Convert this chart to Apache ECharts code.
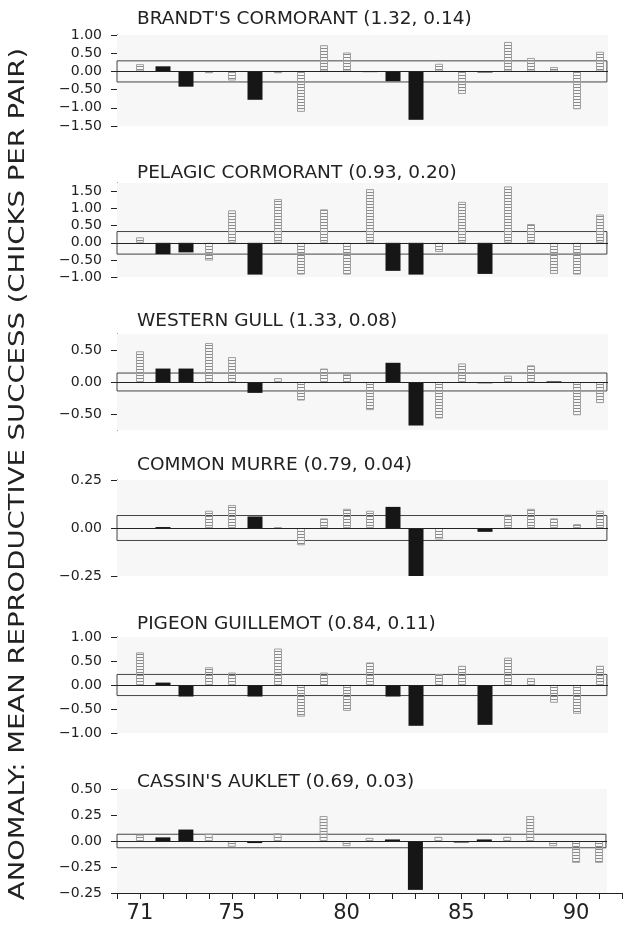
<!DOCTYPE html>
<html>
<head>
<meta charset="utf-8">
<script src="https://cdn.jsdelivr.net/npm/echarts@6/dist/echarts.min.js"></script>
<style>
html,body{margin:0;padding:0;background:#fff;}
#chart{width:625px;height:926px;}
</style>
</head>
<body>
<div id="chart"></div>
<script>
// years 1971..1991
var years = [71,72,73,74,75,76,77,78,79,80,81,82,83,84,85,86,87,88,89,90,91];

// anomalies (chicks per pair)
var brandt    = [0.20,0.14,-0.42,-0.05,-0.25,-0.78,-0.05,-1.11,0.72,0.52,-0.02,-0.27,-1.33,0.21,-0.62,-0.03,0.81,0.37,0.12,-1.04,0.54];
var pelagic   = [0.16,-0.33,-0.28,-0.52,0.95,-0.93,1.28,-0.93,0.98,-0.93,1.57,-0.82,-0.93,-0.27,1.20,-0.91,1.65,0.55,-0.91,-0.93,0.83];
var gull      = [0.48,0.21,0.21,0.61,0.39,-0.17,0.06,-0.29,0.21,0.13,-0.44,0.30,-0.68,-0.57,0.29,-0.02,0.10,0.26,0.01,-0.52,-0.33];
var murre     = [null,0.005,null,0.09,0.12,0.06,0.005,-0.09,0.05,0.10,0.09,0.11,-0.25,-0.06,null,-0.02,0.07,0.10,0.05,0.02,0.09];
var guillemot = [0.68,0.05,-0.24,0.37,0.26,-0.24,0.76,-0.66,0.26,-0.54,0.47,-0.24,-0.85,0.23,0.40,-0.83,0.57,0.14,-0.37,-0.60,0.40];
var auklet    = [0.06,0.035,0.11,0.07,-0.055,-0.02,0.075,-0.005,0.24,-0.05,0.03,0.015,-0.47,0.04,-0.015,0.015,0.04,0.24,-0.05,-0.21,-0.21];

// years drawn as solid black bars
var brandtSolid    = [72,73,76,81,82,83,86];
var pelagicSolid   = [72,73,76,82,83,86];
var gullSolid      = [72,73,76,82,83,86,89];
var murreSolid     = [72,76,82,83,86];
var guillemotSolid = [72,73,76,82,83,86];
var aukletSolid    = [72,73,76,78,82,83,85,86];

var titles = [
	"BRANDT'S CORMORANT (1.32, 0.14)",
	"PELAGIC CORMORANT (0.93, 0.20)",
	"WESTERN GULL (1.33, 0.08)",
	"COMMON MURRE (0.79, 0.04)",
	"PIGEON GUILLEMOT (0.84, 0.11)",
	"CASSIN'S AUKLET (0.69, 0.03)"
];
// half height of the box round zero
var bands = [0.29, 0.33, 0.14, 0.065, 0.22, 0.065];
var yLabelVals = [
	[-1.5,-1,-0.5,0,0.5,1],
	[-1,-0.5,0,0.5,1,1.5],
	[-0.5,0,0.5],
	[-0.25,0,0.25],
	[-1,-0.5,0,0.5,1],
	[-0.5,-0.25,0,0.25,0.5]
];
var xLabelYears = [71,75,80,85,90];
var yTitle = 'ANOMALY: MEAN REPRODUCTIVE SUCCESS (CHICKS PER PAIR)';

var allVals  = [brandt, pelagic, gull, murre, guillemot, auklet];
var allSolid = [brandtSolid, pelagicSolid, gullSolid, murreSolid, guillemotSolid, aukletSolid];

// layout
var gridTops    = [35, 183, 334, 480, 637, 789];
var gridHeights = [91, 94, 96, 96, 96, 104];
var yMins  = [-1.5, -1, -0.75, -0.25, -1, -0.5];
var yMaxs  = [1, 1.75, 0.75, 0.25, 1, 0.5];
var yStep  = [0.5, 0.5, 0.25, 0.25, 0.5, 0.25];
var titleMid = [19, 173, 321, 465, 624, 782];
var FONT = '"DejaVu Sans", "Liberation Sans", sans-serif';

// horizontal stripe pattern for the open bars
var hatch = document.createElement('canvas');
hatch.width = 8; hatch.height = 3;
var hctx = hatch.getContext('2d');
hctx.fillStyle = '#8a8a8a';
hctx.fillRect(0, 0, 8, 1);

function fmt(v){
	return (v < 0 ? '\u2212' : '') + Math.abs(v).toFixed(2);
}

var grid = [], xAxis = [], yAxis = [], series = [], title = [];
for (var i = 0; i < 6; i++) {
	var last = (i == 5);
	grid.push({left: 117, width: 506, top: gridTops[i], height: gridHeights[i]});
	title.push({
		text: titles[i], left: 137, top: titleMid[i] - 9, padding: 0,
		textStyle: {fontFamily: FONT, fontSize: 18.5, fontWeight: 'normal', color: '#222'}
	});
	xAxis.push({
		type: 'value', gridIndex: i, min: 70, max: 92, interval: 1,
		show: last,
		axisLine: {onZero: false, lineStyle: {color: '#222', width: 1}},
		axisTick: {show: true, length: 6, lineStyle: {color: '#222'}},
		splitLine: {show: false},
		axisLabel: {
			color: '#222', fontFamily: FONT, fontSize: 21, margin: 10,
			formatter: function(v){ return xLabelYears.indexOf(v) >= 0 ? String(v) : ''; }
		}
	});
	xAxis.push({type: 'value', gridIndex: i, min: 70, max: 92, show: false, splitLine: {show: false}});
	yAxis.push({
		type: 'value', gridIndex: i, min: yMins[i], max: yMaxs[i], interval: yStep[i],
		axisLine: {show: true, lineStyle: {color: '#222', width: 1}},
		axisTick: {show: true, length: 6, lineStyle: {color: '#222'}, customValues: yLabelVals[i]},
		splitLine: {show: false},
		axisLabel: {
			color: '#222', fontFamily: FONT, fontSize: 14, margin: 15,
			customValues: yLabelVals[i],
			formatter: (function(k){
				return function(v){
					if (yLabelVals[k].indexOf(v) < 0) return '';
					// bottom label of the last panel is printed as -0.25 in the original
					if (k == 5 && v == -0.5) return fmt(-0.25);
					return fmt(v);
				};
			})(i)
		}
	});

	var hData = [], sData = [];
	for (var j = 0; j < years.length; j++) {
		var v = allVals[i][j];
		if (v === null) continue;
		if (allSolid[i].indexOf(years[j]) >= 0) sData.push([years[j], v]);
		else hData.push([years[j], v]);
	}
	series.push({
		type: 'bar', xAxisIndex: 2 * i + 1, yAxisIndex: i,
		barWidth: 8, data: hData, silent: true,
		itemStyle: {color: {image: hatch, repeat: 'repeat'}, borderColor: '#a0a0a0', borderWidth: 1},
		markArea: {
			silent: true,
			data: [
				[{xAxis: 70, yAxis: yMaxs[i], itemStyle: {color: '#f7f7f7', borderWidth: 0}},
				 {xAxis: 91.35, yAxis: yMins[i]}],
				[{xAxis: 70, yAxis: bands[i], itemStyle: {color: 'rgba(0,0,0,0)', borderColor: '#444', borderWidth: 1}},
				 {xAxis: 91.3, yAxis: -bands[i]}]
			]
		}
	});
	series.push({
		type: 'bar', xAxisIndex: 2 * i, yAxisIndex: i,
		barWidth: 15, data: sData, silent: true,
		itemStyle: {color: '#161616'},
		markLine: {
			silent: true, symbol: 'none', label: {show: false},
			lineStyle: {color: '#222', width: 1, type: 'solid'},
			data: [[{coord: [70, 0]}, {coord: [91.35, 0]}]]
		}
	});
}

var chart = echarts.init(document.getElementById('chart'), null, {renderer: 'canvas'});
chart.setOption({
	animation: false,
	backgroundColor: '#fff',
	title: title,
	grid: grid,
	xAxis: xAxis,
	yAxis: yAxis,
	series: series,
	graphic: [{
		type: 'text', x: 18, y: 474, rotation: Math.PI / 2, scaleX: 1.25,
		style: {text: yTitle, font: '22px ' + FONT, fill: '#222', align: 'center', verticalAlign: 'middle'}
	}]
});
</script>
</body>
</html>
